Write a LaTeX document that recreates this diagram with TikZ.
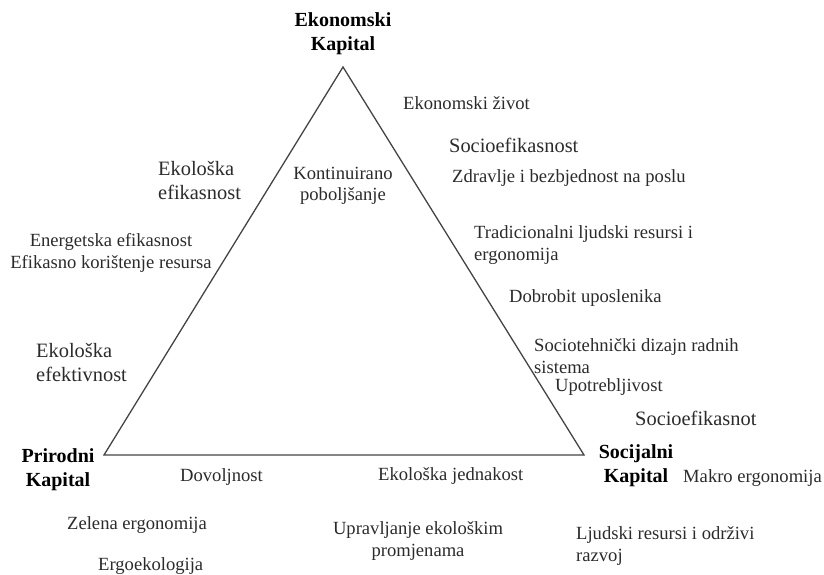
\documentclass[tikz,border=0pt]{standalone}
\usepackage{fontspec}
\setmainfont{Liberation Serif}
\usetikzlibrary{positioning}
\definecolor{txtgray}{HTML}{2B2B2B}
\definecolor{linegray}{HTML}{444444}
\tikzset{
  lbl/.style={inner sep=0pt, text=txtgray, align=left, font=\fontsize{18.6}{21.5}\selectfont},
  lblbig/.style={lbl, font=\fontsize{20.4}{24}\selectfont},
  kapital/.style={inner sep=0pt, text=black, align=center, font=\fontsize{20}{24}\selectfont\bfseries},
}

\begin{document}
\begin{tikzpicture}[x=1pt, y=-1pt]
  \useasboundingbox (0,0) rectangle (824,575);

  \coordinate (top) at (343,67);
  \coordinate (bl) at (104,455);
  \coordinate (br) at (584,455);
  \draw[linegray, line width=1.3pt] (top) -- (br) -- (bl) -- cycle;

  % kapitali
  \node[kapital] (ekokap) at (343,34) {Ekonomski\\Kapital};
  \node[kapital] (prirkap) at (58,470) {Prirodni\\Kapital};
  \node[kapital] (sockap) at (636,466) {Socijalni\\Kapital};

  % desna strana
  \node[lbl, anchor=west] (ekzivot) at (403,103) {Ekonomski život};
  \node[lblbig, anchor=west] (socef) at (449,145) {Socioefikasnost};
  \node[lbl, anchor=west] (zdravlje) at (452,178) {Zdravlje i bezbjednost na poslu};
  \node[lbl, anchor=west] (tradic) at (474,245) {Tradicionalni ljudski resursi i\\ergonomija};
  \node[lbl, anchor=west] (dobrobit) at (509,298) {Dobrobit uposlenika};
  \node[lbl, anchor=west] (sociot) at (534,356) {Sociotehnički dizajn radnih\\sistema};
  \node[lbl, anchor=west] (upotreb) at (555,387) {Upotrebljivost};
  \node[lblbig, anchor=west] (socefb) at (635,418) {Socioefikasnot};
  \node[lbl, anchor=west] (makro) at (683,478) {Makro ergonomija};
  \node[lbl, anchor=west] (ljudski) at (576,546) {Ljudski resursi i održivi\\razvoj};

  % donja strana
  \node[lbl, anchor=west] (dovolj) at (180,477) {Dovoljnost};
  \node[lbl, anchor=west] (ekjedn) at (378,476) {Ekološka jednakost};
  \node[lbl, align=center] (upravlj) at (418,541) {Upravljanje ekološkim\\promjenama};
  \node[lbl, anchor=west] (zelena) at (67,525) {Zelena ergonomija};
  \node[lbl, anchor=west] (ergoek) at (98,566) {Ergoekologija};

  % lijeva strana
  \node[lblbig, anchor=west] (ekefikas) at (158,181) {Ekološka\\efikasnost};
  \node[lbl, align=center] (energ) at (111,253) {Energetska efikasnost\\Efikasno korištenje resursa};
  \node[lblbig, anchor=west] (ekefekt) at (36,362) {Ekološka\\efektivnost};

  % unutra
  \node[lbl, align=center] (kontin) at (343,186) {Kontinuirano\\poboljšanje};
\end{tikzpicture}
\end{document}
